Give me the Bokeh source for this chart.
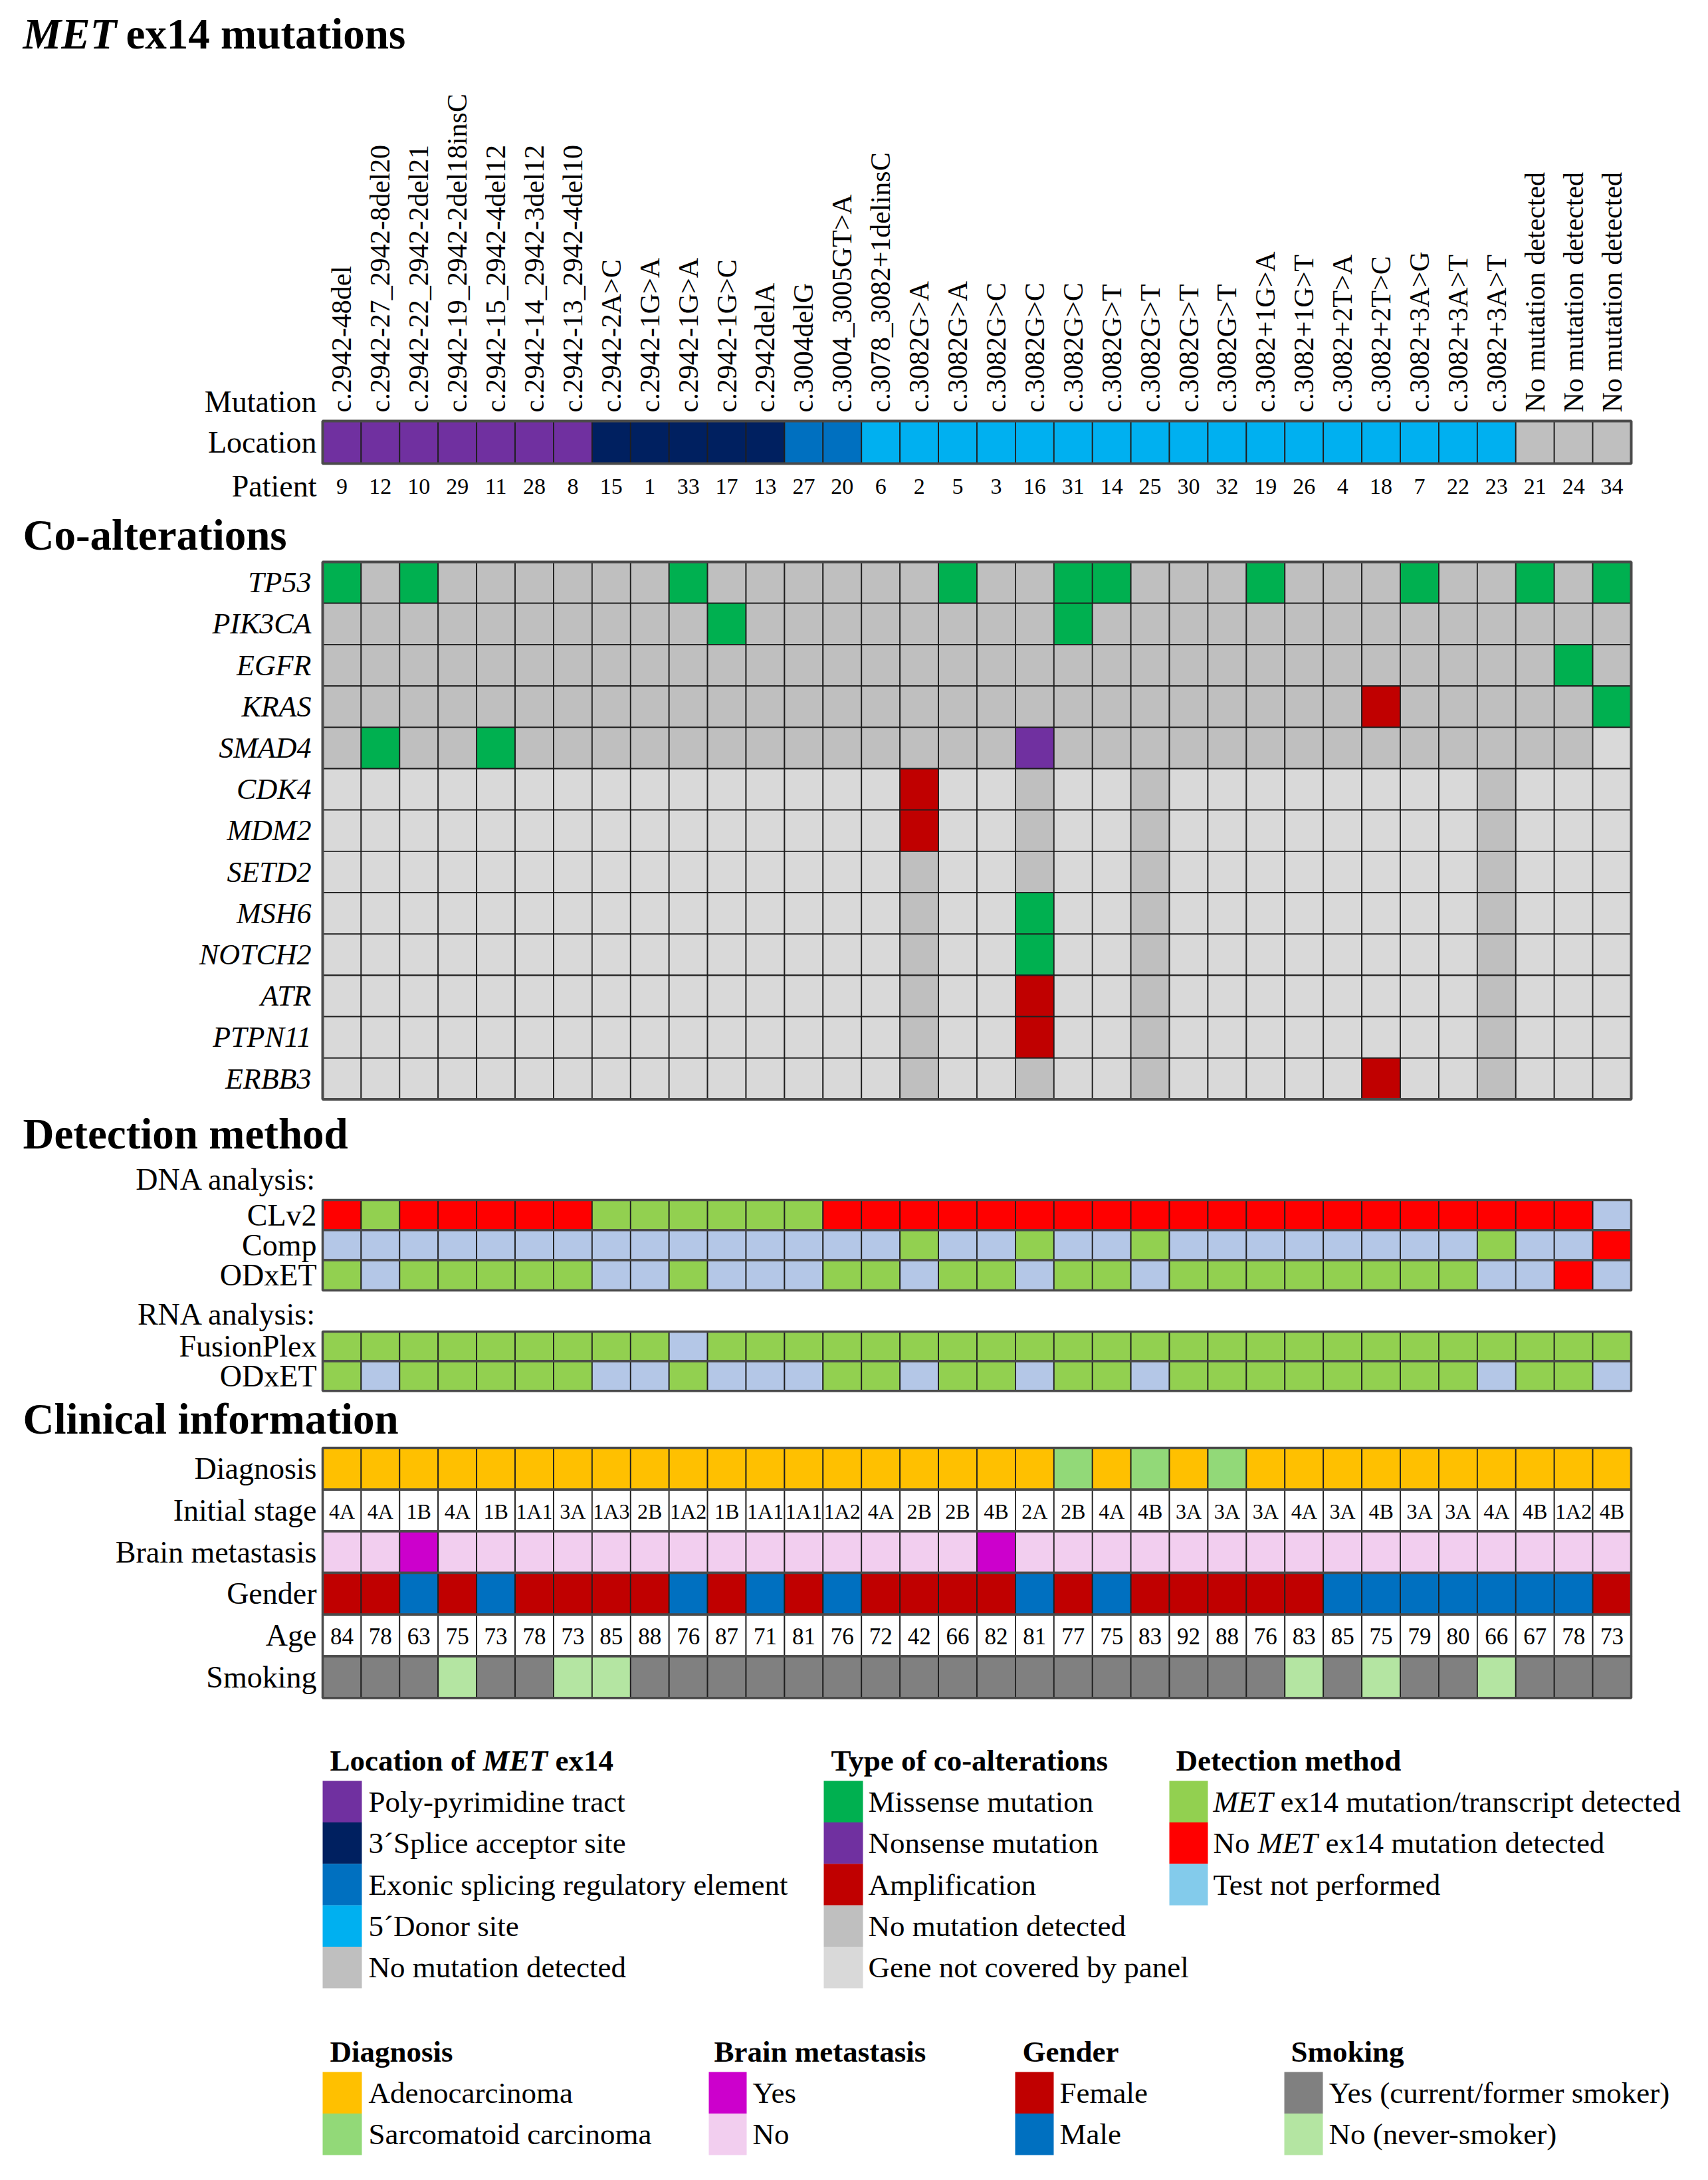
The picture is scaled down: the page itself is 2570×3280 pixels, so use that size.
import math
from bokeh.plotting import figure
from bokeh.models import Range1d, ColumnDataSource
from bokeh.core.properties import value
from bokeh.embed import file_html
from bokeh.resources import INLINE

# ---------------- data ----------------
patients = [9, 12, 10, 29, 11, 28, 8, 15, 1, 33, 17, 13, 27, 20, 6, 2, 5, 3, 16, 31,
            14, 25, 30, 32, 19, 26, 4, 18, 7, 22, 23, 21, 24, 34]
mutations = ["c.2942-48del", "c.2942-27_2942-8del20", "c.2942-22_2942-2del21",
             "c.2942-19_2942-2del18insC", "c.2942-15_2942-4del12", "c.2942-14_2942-3del12",
             "c.2942-13_2942-4del10", "c.2942-2A>C", "c.2942-1G>A", "c.2942-1G>A",
             "c.2942-1G>C", "c.2942delA", "c.3004delG", "c.3004_3005GT>A",
             "c.3078_3082+1delinsC", "c.3082G>A", "c.3082G>A", "c.3082G>C", "c.3082G>C",
             "c.3082G>C", "c.3082G>T", "c.3082G>T", "c.3082G>T", "c.3082G>T",
             "c.3082+1G>A", "c.3082+1G>T", "c.3082+2T>A", "c.3082+2T>C", "c.3082+3A>G",
             "c.3082+3A>T", "c.3082+3A>T", "No mutation detected", "No mutation detected",
             "No mutation detected"]
# P poly-pyrimidine, S 3'splice acceptor, E exonic splicing element, D 5'donor, N none
location = "PPPPPPP" "SSSSS" "EE" "DDDDDDDDDDDDDDDDD" "NNN"

genes = ["TP53", "PIK3CA", "EGFR", "KRAS", "SMAD4", "CDK4", "MDM2", "SETD2", "MSH6",
         "NOTCH2", "ATR", "PTPN11", "ERBB3"]
# M missense, N nonsense, A amplification, - no mutation detected, x not covered
coalt = {
    "TP53":   "M-M------M ------M--M M---M---M- -M-M",
    "PIK3CA": "---------- M--------M ---------- ----",
    "EGFR":   "---------- ---------- ---------- --M-",
    "KRAS":   "---------- ---------- -------A-- ---M",
    "SMAD4":  "-M--M----- --------N- ---------- ---x",
    "CDK4":   "xxxxxxxxxx xxxxxAxx-x x-xxxxxxxx -xxx",
    "MDM2":   "xxxxxxxxxx xxxxxAxx-x x-xxxxxxxx -xxx",
    "SETD2":  "xxxxxxxxxx xxxxx-xx-x x-xxxxxxxx -xxx",
    "MSH6":   "xxxxxxxxxx xxxxx-xxMx x-xxxxxxxx -xxx",
    "NOTCH2": "xxxxxxxxxx xxxxx-xxMx x-xxxxxxxx -xxx",
    "ATR":    "xxxxxxxxxx xxxxx-xxAx x-xxxxxxxx -xxx",
    "PTPN11": "xxxxxxxxxx xxxxx-xxAx x-xxxxxxxx -xxx",
    "ERBB3":  "xxxxxxxxxx xxxxx-xx-x x-xxxxxAxx -xxx",
}

# D detected, N not detected, T test not performed
dna_methods = ["CLv2", "Comp", "ODxET"]
dna_calls = {
    "CLv2":  "NDNNNNNDDD DDDNNNNNNN NNNNNNNNNN NNNT",
    "Comp":  "TTTTTTTTTT TTTTTDTTDT TDTTTTTTTT DTTN",
    "ODxET": "DTDDDDDTTD TTTDDTDDTD DTDDDDDDDD TTNT",
}
rna_methods = ["FusionPlex", "ODxET"]
rna_calls = {
    "FusionPlex": "DDDDDDDDDT DDDDDDDDDD DDDDDDDDDD DDDD",
    "ODxET":      "DTDDDDDTTD TTTDDTDDTD DTDDDDDDDD TDDT",
}

diagnosis = "AAAAAAAAAA AAAAAAAAAS ASASAAAAAA AAAA"
stage = ["4A", "4A", "1B", "4A", "1B", "1A1", "3A", "1A3", "2B", "1A2", "1B", "1A1", "1A1",
         "1A2", "4A", "2B", "2B", "4B", "2A", "2B", "4A", "4B", "3A", "3A", "3A", "4A", "3A",
         "4B", "3A", "3A", "4A", "4B", "1A2", "4B"]
brain = "NNYNNNNNNN NNNNNNNYNN NNNNNNNNNN NNNN"
gender = "FFMFMFFFFM FMFMFFFFMF MFFFFFMMMM MMMF"
age = [84, 78, 63, 75, 73, 78, 73, 85, 88, 76, 87, 71, 81, 76, 72, 42, 66, 82, 81, 77,
       75, 83, 92, 88, 76, 83, 85, 75, 79, 80, 66, 67, 78, 73]
smoking = "YYYNYYNNYY YYYYYYYYYY YYYYYNYNYY NYYY"

# colours
loc_colors = {"P": "#7030A0", "S": "#002060", "E": "#0070C0", "D": "#00B0F0", "N": "#BFBFBF"}
co_colors = {"M": "#00B050", "N": "#7030A0", "A": "#C00000", "-": "#BFBFBF", "x": "#D9D9D9"}
det_colors = {"D": "#92D050", "N": "#FF0000", "T": "#B4C7E7"}
diag_colors = {"A": "#FFC000", "S": "#92D978"}
brain_colors = {"Y": "#CC00CC", "N": "#F2CEEF"}
gender_colors = {"F": "#C00000", "M": "#0070C0"}
smoke_colors = {"Y": "#808080", "N": "#B4E5A2"}


def codes(s):
    return [c for c in s if c != " "]


# ---------------- layout ----------------
W, H = 2554, 3264
N = len(patients)
GL, GR = 493, 2462
CW = (GR - GL) / N


def X(px):
    return (px - GL) / CW


FONT = value("Liberation Serif")
LINE = "#1f1f1f"
EDGE = "#4a4a4a"

p = figure(width=W, height=H, x_range=Range1d(X(8), X(8 + W)), y_range=Range1d(8 + H, 8),
           output_backend="svg", toolbar_location=None, min_border=0,
           x_axis_type=None, y_axis_type=None)
p.grid.visible = False
p.outline_line_color = None
p.background_fill_color = "white"
p.border_fill_color = "white"


def text(x, y, s, size, style="normal", align="left", baseline="middle", angle=0.0, color="black"):
    src = ColumnDataSource(dict(x=list(x), y=list(y), t=list(s)))
    p.text(x="x", y="y", text="t", source=src, text_font=FONT, text_font_size=f"{size}px",
           text_font_style=style, text_align=align, text_baseline=baseline, angle=angle,
           text_color=color)


def cell_row(colors, top, h, lw=1.8):
    src = ColumnDataSource(dict(left=list(range(N)), right=[i + 1 for i in range(N)],
                                top=[top] * N, bottom=[top + h] * N, c=colors))
    p.quad(left="left", right="right", top="top", bottom="bottom", fill_color="c",
           line_color=LINE, line_width=lw, source=src)


def frame(top, bottom, lw=4):
    p.quad(left=[0], right=[N], top=[top], bottom=[bottom], fill_alpha=0,
           line_color=EDGE, line_width=lw)


LABEL_R = X(484)
LS = 46      # regular row labels
GS = 44      # italic gene labels
SEC = 65     # section titles

# ---------------- MET ex14 mutations ----------------
text([X(42)], [58], ["MET"], SEC, "bold italic")
text([X(197)], [58], ["ex14 mutations"], SEC, "bold")

text([i + 0.5 for i in range(N)], [628] * N, mutations, 42, angle=math.pi / 2,
     align="left", baseline="middle")
text([LABEL_R], [612], ["Mutation"], LS, align="right")

LOC_T, LOC_H = 641, 64
cell_row([loc_colors[c] for c in codes(location)], LOC_T, LOC_H)
frame(LOC_T, LOC_T + LOC_H)
text([LABEL_R], [LOC_T + LOC_H / 2], ["Location"], LS, align="right")

text([i + 0.5 for i in range(N)], [739] * N, [str(v) for v in patients], 34, align="center")
text([LABEL_R], [739], ["Patient"], LS, align="right")

# ---------------- Co-alterations ----------------
text([X(42)], [812], ["Co-alterations"], SEC, "bold")
CO_T, CO_H = 853, 62.2
for r, g in enumerate(genes):
    cell_row([co_colors[c] for c in codes(coalt[g])], CO_T + r * CO_H, CO_H)
    text([X(476)], [CO_T + (r + 0.5) * CO_H], [g], GS, "italic", align="right")
frame(CO_T, CO_T + len(genes) * CO_H)

# ---------------- Detection method ----------------
text([X(42)], [1713], ["Detection method"], SEC, "bold")
text([LABEL_R], [1782], ["DNA analysis:"], LS, align="right")
DNA_T, DH = 1813, 45.3
for r, m in enumerate(dna_methods):
    cell_row([det_colors[c] for c in codes(dna_calls[m])], DNA_T + r * DH, DH)
    frame(DNA_T + r * DH, DNA_T + (r + 1) * DH, 3.5)
    text([LABEL_R], [DNA_T + (r + 0.5) * DH], [m], LS, align="right")

text([LABEL_R], [1985], ["RNA analysis:"], LS, align="right")
RNA_T, RH = 2011, 44.6
for r, m in enumerate(rna_methods):
    cell_row([det_colors[c] for c in codes(rna_calls[m])], RNA_T + r * RH, RH)
    frame(RNA_T + r * RH, RNA_T + (r + 1) * RH, 3.5)
    text([LABEL_R], [RNA_T + (r + 0.5) * RH], [m], LS, align="right")

# ---------------- Clinical information ----------------
text([X(42)], [2142], ["Clinical information"], SEC, "bold")
CL_T, CH = 2186, 62.7
clin_rows = [
    ("Diagnosis", [diag_colors[c] for c in codes(diagnosis)], None),
    ("Initial stage", ["white"] * N, stage),
    ("Brain metastasis", [brain_colors[c] for c in codes(brain)], None),
    ("Gender", [gender_colors[c] for c in codes(gender)], None),
    ("Age", ["white"] * N, [str(a) for a in age]),
    ("Smoking", [smoke_colors[c] for c in codes(smoking)], None),
]
for r, (lab, cols, labels) in enumerate(clin_rows):
    top = CL_T + r * CH
    cell_row(cols, top, CH)
    frame(top, top + CH, 3.5)
    text([LABEL_R], [top + CH / 2], [lab], LS, align="right")
    if labels is not None:
        sz = 32 if lab == "Initial stage" else 35
        text([i + 0.5 for i in range(N)], [top + CH / 2 + 1] * N, labels, sz, align="center")

# ---------------- Legends ----------------
LEG_FS = 45
TIT_FS = 45


def legend_block(x0, x1, tx, sy, sh, colors, labels):
    n = len(colors)
    src = ColumnDataSource(dict(left=[X(x0)] * n, right=[X(x1)] * n,
                                top=[sy + k * sh for k in range(n)],
                                bottom=[sy + (k + 1) * sh for k in range(n)], c=colors))
    p.quad(left="left", right="right", top="top", bottom="bottom", fill_color="c",
           line_color=None, source=src)
    items = [(k, lab) for k, lab in enumerate(labels) if lab is not None]
    text([X(tx)] * len(items), [sy + (k + 0.5) * sh for k, _ in items],
         [lab for _, lab in items], LEG_FS)


TT = 2656
# Location of MET ex14
text([X(504)], [TT], ["Location of"], TIT_FS, "bold")
text([X(734)], [TT], ["MET"], TIT_FS, "bold italic")
text([X(843)], [TT], ["ex14"], TIT_FS, "bold")
legend_block(493, 552, 562, 2687, 62.4,
             [loc_colors[k] for k in "PSEDN"],
             ["Poly-pyrimidine tract", "3´Splice acceptor site",
              "Exonic splicing regulatory element", "5´Donor site", "No mutation detected"])

# Type of co-alterations
text([X(1258)], [TT], ["Type of co-alterations"], TIT_FS, "bold")
legend_block(1247, 1306, 1314, 2687, 62.4,
             [co_colors[k] for k in "MNA-x"],
             ["Missense mutation", "Nonsense mutation", "Amplification",
              "No mutation detected", "Gene not covered by panel"])

# Detection method
text([X(1777)], [TT], ["Detection method"], TIT_FS, "bold")
legend_block(1767, 1825, 1833, 2687, 62.4,
             [det_colors["D"], det_colors["N"], "#83CBEB"],
             [None, None, "Test not performed"])
text([X(1833)], [2687 + 0.5 * 62.4], ["MET"], LEG_FS, "italic")
text([X(1934)], [2687 + 0.5 * 62.4], ["ex14 mutation/transcript detected"], LEG_FS)
text([X(1833)], [2687 + 1.5 * 62.4], ["No"], LEG_FS)
text([X(1900)], [2687 + 1.5 * 62.4], ["MET"], LEG_FS, "italic")
text([X(2002)], [2687 + 1.5 * 62.4], ["ex14 mutation detected"], LEG_FS)

# bottom legends
BT, BS, BH = 3094, 3125, 62.5
text([X(504)], [BT], ["Diagnosis"], TIT_FS, "bold")
legend_block(493, 552, 562, BS, BH, [diag_colors["A"], diag_colors["S"]],
             ["Adenocarcinoma", "Sarcomatoid carcinoma"])
text([X(1082)], [BT], ["Brain metastasis"], TIT_FS, "bold")
legend_block(1074, 1131, 1140, BS, BH, [brain_colors["Y"], brain_colors["N"]],
             ["Yes", "No"])
text([X(1546)], [BT], ["Gender"], TIT_FS, "bold")
legend_block(1535, 1593, 1602, BS, BH, [gender_colors["F"], gender_colors["M"]],
             ["Female", "Male"])
text([X(1950)], [BT], ["Smoking"], TIT_FS, "bold")
legend_block(1940, 1998, 2007, BS, BH, [smoke_colors["Y"], smoke_colors["N"]],
             ["Yes (current/former smoker)", "No (never-smoker)"])

open("out.html", "w").write(file_html(p, INLINE))
